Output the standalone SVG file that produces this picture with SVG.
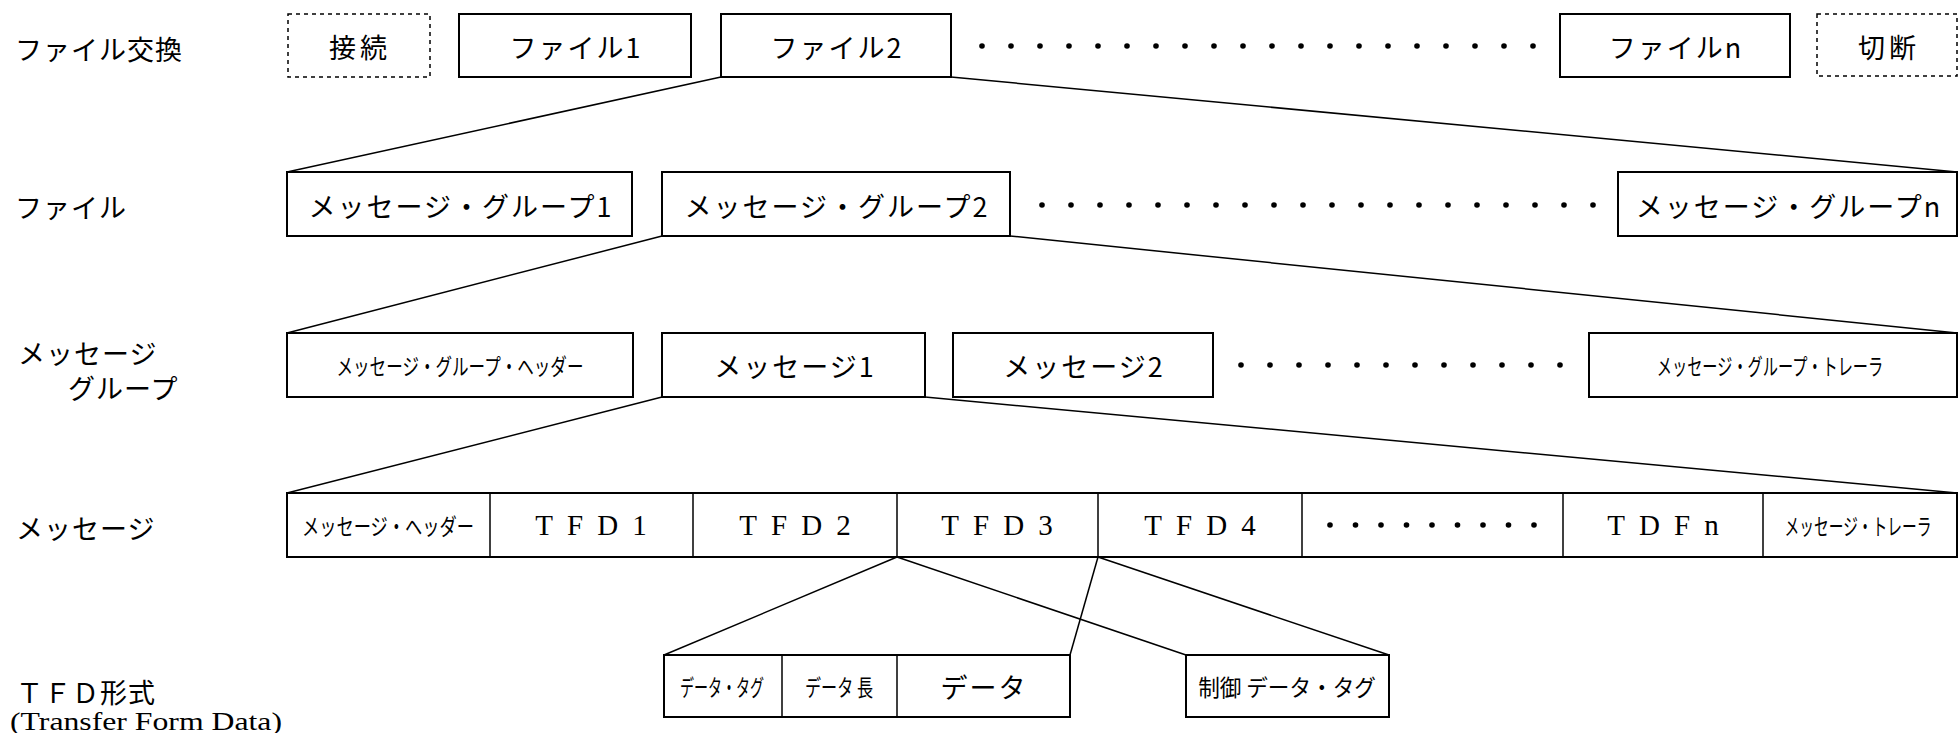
<svg xmlns="http://www.w3.org/2000/svg" width="1959" height="733" viewBox="0 0 1959 733">
<style>
.bg{fill:#fff}
.box{fill:#fff;stroke:#000;stroke-width:2}
.dash{fill:#fff;stroke:#000;stroke-width:1.5;stroke-dasharray:4 4}
.cell{stroke:#000;stroke-width:1.5}
.ln{stroke:#000;stroke-width:1.5;fill:none}
.jp{font-family:"Noto Sans CJK JP","Noto Sans",sans-serif;font-size:27px;fill:#000;dominant-baseline:central}
.lb{letter-spacing:1px}
.c{text-anchor:middle;letter-spacing:2px}
.sm{font-family:"Noto Sans CJK JP",sans-serif;font-size:23px;fill:#000;dominant-baseline:central;text-anchor:middle}
.lat{font-family:"Liberation Serif",serif;font-size:29px;fill:#000;dominant-baseline:central;text-anchor:middle;letter-spacing:14px}
.dot{fill:#000}
</style>
<defs>
<circle id="d" r="2.8" class="dot"/>
</defs>
<rect class="bg" x="0" y="0" width="1959" height="733"/>

<g id="labels">
<text class="jp lb" x="15" y="48">ファイル交換</text>
<text class="jp lb" x="15" y="206">ファイル</text>
<text class="jp lb" x="18" y="352">メッセージ</text>
<text class="jp lb" x="68" y="387">グループ</text>
<text class="jp lb" x="16" y="527">メッセージ</text>
<text class="jp lb" x="16" y="691">ＴＦＤ形式</text>
<text x="10" y="721" font-family="Liberation Serif, serif" font-size="25" textLength="272" lengthAdjust="spacingAndGlyphs" dominant-baseline="central">(Transfer Form Data)</text>
</g>

<g id="connectors">
<line class="ln" x1="721" y1="77" x2="287" y2="172"/>
<line class="ln" x1="951" y1="77" x2="1957" y2="172"/>
<line class="ln" x1="662" y1="236" x2="287" y2="333"/>
<line class="ln" x1="1010" y1="236" x2="1957" y2="333"/>
<line class="ln" x1="662" y1="397" x2="287" y2="493"/>
<line class="ln" x1="925" y1="397" x2="1957" y2="493"/>
<line class="ln" x1="897" y1="557" x2="664" y2="655"/>
<line class="ln" x1="897" y1="557" x2="1186" y2="655"/>
<line class="ln" x1="1098" y1="557" x2="1070" y2="655"/>
<line class="ln" x1="1098" y1="557" x2="1389" y2="655"/>
</g>

<!-- Row 1 -->
<g id="n-setsuzoku"><rect class="dash" x="288" y="14" width="142" height="63"/><text class="jp c" x="360" y="46" style="letter-spacing:4px">接続</text></g>
<g id="n-file1"><rect class="box" x="459" y="14" width="232" height="63"/><text class="jp c" x="576" y="46">ファイル1</text></g>
<g id="n-file2"><rect class="box" x="721" y="14" width="230" height="63"/><text class="jp c" x="837" y="46">ファイル2</text></g>
<g id="dots1">
<use href="#d" x="982" y="46"/><use href="#d" x="1011" y="46"/><use href="#d" x="1040" y="46"/><use href="#d" x="1069" y="46"/><use href="#d" x="1098" y="46"/><use href="#d" x="1127" y="46"/><use href="#d" x="1156" y="46"/><use href="#d" x="1185" y="46"/><use href="#d" x="1214" y="46"/><use href="#d" x="1243" y="46"/><use href="#d" x="1272" y="46"/><use href="#d" x="1301" y="46"/><use href="#d" x="1330" y="46"/><use href="#d" x="1359" y="46"/><use href="#d" x="1388" y="46"/><use href="#d" x="1417" y="46"/><use href="#d" x="1446" y="46"/><use href="#d" x="1475" y="46"/><use href="#d" x="1504" y="46"/><use href="#d" x="1533" y="46"/>
</g>
<g id="n-filen"><rect class="box" x="1560" y="14" width="230" height="63"/><text class="jp c" x="1676" y="46">ファイルn</text></g>
<g id="n-setsudan"><rect class="dash" x="1817" y="14" width="140" height="62"/><text class="jp c" x="1889" y="46" style="letter-spacing:4px">切断</text></g>

<!-- Row 2 -->
<g id="n-mg1"><rect class="box" x="287" y="172" width="345" height="64"/><text class="jp c" x="461" y="205">メッセージ・グループ1</text></g>
<g id="n-mg2"><rect class="box" x="662" y="172" width="348" height="64"/><text class="jp c" x="837" y="205">メッセージ・グループ2</text></g>
<g id="dots2">
<use href="#d" x="1042" y="205"/><use href="#d" x="1071" y="205"/><use href="#d" x="1100" y="205"/><use href="#d" x="1129" y="205"/><use href="#d" x="1158" y="205"/><use href="#d" x="1187" y="205"/><use href="#d" x="1216" y="205"/><use href="#d" x="1245" y="205"/><use href="#d" x="1274" y="205"/><use href="#d" x="1303" y="205"/><use href="#d" x="1332" y="205"/><use href="#d" x="1361" y="205"/><use href="#d" x="1390" y="205"/><use href="#d" x="1419" y="205"/><use href="#d" x="1448" y="205"/><use href="#d" x="1477" y="205"/><use href="#d" x="1506" y="205"/><use href="#d" x="1535" y="205"/><use href="#d" x="1564" y="205"/><use href="#d" x="1593" y="205"/>
</g>
<g id="n-mgn"><rect class="box" x="1618" y="172" width="339" height="64"/><text class="jp c" x="1789" y="205">メッセージ・グループn</text></g>

<!-- Row 3 -->
<g id="n-mgh"><rect class="box" x="287" y="333" width="346" height="64"/><text class="sm" transform="translate(460,365) scale(0.72,1)">メッセージ・グループ・ヘッダー</text></g>
<g id="n-m1"><rect class="box" x="662" y="333" width="263" height="64"/><text class="jp c" x="795" y="365">メッセージ1</text></g>
<g id="n-m2"><rect class="box" x="953" y="333" width="260" height="64"/><text class="jp c" x="1084" y="365">メッセージ2</text></g>
<g id="dots3">
<use href="#d" x="1241" y="365"/><use href="#d" x="1270" y="365"/><use href="#d" x="1299" y="365"/><use href="#d" x="1328" y="365"/><use href="#d" x="1357" y="365"/><use href="#d" x="1386" y="365"/><use href="#d" x="1415" y="365"/><use href="#d" x="1444" y="365"/><use href="#d" x="1473" y="365"/><use href="#d" x="1502" y="365"/><use href="#d" x="1531" y="365"/><use href="#d" x="1560" y="365"/>
</g>
<g id="n-mgt"><rect class="box" x="1589" y="333" width="368" height="64"/><text class="sm" transform="translate(1770,365) scale(0.66,1)">メッセージ・グループ・トレーラ</text></g>

<!-- Row 4 -->
<g id="n-message">
<rect class="box" x="287" y="493" width="1670" height="64"/>
<line class="cell" x1="490" y1="493" x2="490" y2="557"/>
<line class="cell" x1="693" y1="493" x2="693" y2="557"/>
<line class="cell" x1="897" y1="493" x2="897" y2="557"/>
<line class="cell" x1="1098" y1="493" x2="1098" y2="557"/>
<line class="cell" x1="1302" y1="493" x2="1302" y2="557"/>
<line class="cell" x1="1563" y1="493" x2="1563" y2="557"/>
<line class="cell" x1="1763" y1="493" x2="1763" y2="557"/>
<text class="sm" transform="translate(388,525) scale(0.75,1)">メッセージ・ヘッダー</text>
<text class="lat" x="598" y="525">TFD1</text>
<text class="lat" x="802" y="525">TFD2</text>
<text class="lat" x="1004" y="525">TFD3</text>
<text class="lat" x="1207" y="525">TFD4</text>
<use href="#d" x="1330" y="525"/><use href="#d" x="1355.5" y="525"/><use href="#d" x="1381" y="525"/><use href="#d" x="1406.5" y="525"/><use href="#d" x="1432" y="525"/><use href="#d" x="1457.5" y="525"/><use href="#d" x="1483" y="525"/><use href="#d" x="1508.5" y="525"/><use href="#d" x="1534" y="525"/>
<text class="lat" x="1670" y="525">TDFn</text>
<text class="sm" transform="translate(1858,525) scale(0.64,1)">メッセージ・トレーラ</text>
</g>

<!-- Row 5 -->
<g id="n-tfd">
<rect class="box" x="664" y="655" width="406" height="62"/>
<line class="cell" x1="782" y1="655" x2="782" y2="717"/>
<line class="cell" x1="897" y1="655" x2="897" y2="717"/>
<text class="sm" transform="translate(722,686) scale(0.61,1)">データ・タグ</text>
<text class="sm" transform="translate(839,686) scale(0.70,1)">データ 長</text>
<text class="jp c" x="984" y="686">データ</text>
</g>
<g id="n-ctrl"><rect class="box" x="1186" y="655" width="203" height="62"/><text class="sm" transform="translate(1287,686) scale(0.94,1)">制御 データ・タグ</text></g>
</svg>
